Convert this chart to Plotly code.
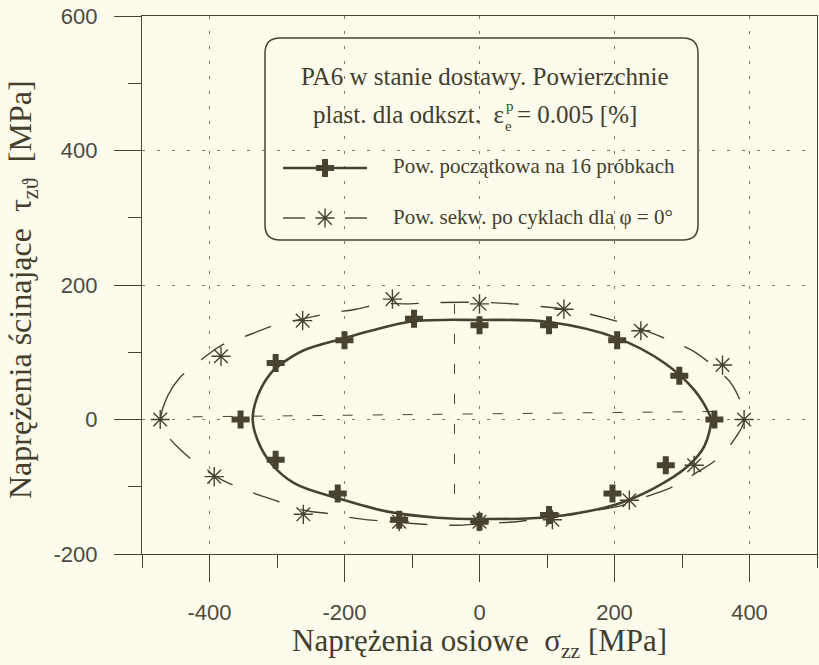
import plotly.graph_objects as go

# Measured points: initial yield surface (16 specimens)
initial_sigma = [-354, -302, -200, -97, 0, 103, 204, 296, 348, 276, 197, 103, 0, -119, -210, -302]
initial_tau = [0, 84, 118, 150, 140, 140, 118, 65, 0, -68, -110, -142, -152, -149, -110, -60]

# Measured points: sequential surface after cycles, phi = 0 deg
seq_sigma = [-473, -383, -262, -129, 0, 125, 239, 360, 392, 318, 222, 108, 0, -119, -261, -393]
seq_tau = [0, 94, 147, 179, 172, 164, 132, 81, 0, -68, -120, -149, -152, -152, -141, -85]

# Fitted initial surface (solid)
init_curve_sigma = [-336, -329, -309, -289, -260, -200, -161, -97, 0, 103, 204, 274, 318, 340, 343,
                    333, 308, 259, 200, 103, 0, -62, -136, -210, -274, -309, -329, -336]
init_curve_tau = [0, 34, 69, 86, 103, 121, 132, 146, 148, 145, 121, 84, 44, 9, 0,
                  -40, -70, -102, -127, -145, -148, -146, -137, -117, -95, -65, -30, 0]

# Fitted sequential surface (dashed)
seq_curve_sigma = [-472, -462, -445, -413, -381, -341, -304, -260, -223, -183, -144, -104, -62, 12, 49, 91,
                   125, 170, 207, 244, 281, 318, 350, 376, 392, 380, 353, 323, 286, 249, 214, 175,
                   135, 101, 54, 17, -25, -62, -120, -183, -223, -260, -304, -341, -381, -413, -445,
                   -462, -472]
seq_curve_tau = [0, 35, 61, 88, 111, 126, 140, 150, 158, 164, 172, 172, 174, 174, 172, 168,
                 164, 155, 145, 133, 118, 101, 76, 49, 0, -26, -58, -78, -100, -114, -127, -135,
                 -142, -145, -152, -154, -157, -157, -153, -147, -140, -135, -120, -107, -90, -70, -43,
                 -24, 0]

# Principal axes of the sequential surface
axis_h_sigma = [-425, 357]
axis_h_tau = [4, 12]
axis_v_sigma = [-37, -37]
axis_v_tau = [172, -115]

x_ticks = [-400, -200, 0, 200, 400]
y_ticks = [-200, 0, 200, 400, 600]
x_minor = [-500, -300, -100, 100, 300, 500]
y_minor = [-100, 100, 300, 500]

BG = "#fcfbec"
INK = "#48432f"
TXT = "#433e2d"
TICKTXT = "#4e4a3c"
SERIF = "Liberation Serif, Times New Roman, serif"
SANS = "Liberation Sans, Arial, sans-serif"

W, H = 819, 665
L, T, PW, PH = 142, 16, 675, 538


def X(px):
    return (px - L) / PW


def Y(py):
    return (T + PH - py) / PH


CROSS = dict(symbol="cross", size=15, color=INK, line=dict(width=0))
STAR = dict(symbol="asterisk-open", size=16, color=INK, line=dict(color=INK, width=1.4))

fig = go.Figure()

fig.add_trace(go.Scatter(x=axis_h_sigma, y=axis_h_tau, mode="lines",
                         line=dict(color=INK, width=1, dash="10px,20px"), hoverinfo="skip"))
fig.add_trace(go.Scatter(x=axis_v_sigma, y=axis_v_tau, mode="lines",
                         line=dict(color=INK, width=1, dash="10px,20px"), hoverinfo="skip"))
fig.add_trace(go.Scatter(x=seq_curve_sigma, y=seq_curve_tau, mode="lines",
                         line=dict(color=INK, width=1.4, dash="28px,22px", shape="spline", smoothing=1)))
fig.add_trace(go.Scatter(x=init_curve_sigma, y=init_curve_tau, mode="lines",
                         line=dict(color=INK, width=2.6, shape="spline", smoothing=1)))
fig.add_trace(go.Scatter(x=seq_sigma, y=seq_tau, mode="markers", marker=STAR))
fig.add_trace(go.Scatter(x=initial_sigma, y=initial_tau, mode="markers", marker=CROSS))

# Legend keys, drawn on an overlay axis spanning the plot area in [0, 1]
key_y1, key_y2 = Y(168), Y(218)
fig.add_trace(go.Scatter(x=[X(283), X(367)], y=[key_y1, key_y1], mode="lines",
                         line=dict(color=INK, width=2.6), xaxis="x2", yaxis="y2"))
fig.add_trace(go.Scatter(x=[X(325)], y=[key_y1], mode="markers", xaxis="x2", yaxis="y2", marker=CROSS))
for a, b in [(283, 305), (345, 367)]:
    fig.add_trace(go.Scatter(x=[X(a), X(b)], y=[key_y2, key_y2], mode="lines",
                             line=dict(color=INK, width=1.4), xaxis="x2", yaxis="y2"))
fig.add_trace(go.Scatter(x=[X(325)], y=[key_y2], mode="markers", xaxis="x2", yaxis="y2", marker=STAR))

# Rounded legend frame
bx0, by0, bx1, by1, r = 265, 38, 698, 240, 15
path = (f"M {X(bx0 + r)},{Y(by0)} L {X(bx1 - r)},{Y(by0)} Q {X(bx1)},{Y(by0)} {X(bx1)},{Y(by0 + r)} "
        f"L {X(bx1)},{Y(by1 - r)} Q {X(bx1)},{Y(by1)} {X(bx1 - r)},{Y(by1)} "
        f"L {X(bx0 + r)},{Y(by1)} Q {X(bx0)},{Y(by1)} {X(bx0)},{Y(by1 - r)} "
        f"L {X(bx0)},{Y(by0 + r)} Q {X(bx0)},{Y(by0)} {X(bx0 + r)},{Y(by0)} Z")
fig.add_shape(type="path", path=path, xref="paper", yref="paper", layer="between",
              fillcolor=BG, line=dict(color=INK, width=1.5))


def note(text, px, py, size, xanchor="center", font=SERIF, color=TXT, angle=0):
    fig.add_annotation(text=text, x=X(px), y=Y(py), xref="paper", yref="paper",
                       xanchor=xanchor, yanchor="middle", showarrow=False, textangle=angle,
                       borderpad=0, font=dict(family=font, size=size, color=color))


note("PA6 w stanie dostawy. Powierzchnie", 485, 77, 25)
note("plast. dla odkszt.\u00a0\u00a0ε", 505, 114, 25, xanchor="right")
note("p", 505, 106, 15, xanchor="left")
note("e", 504, 126, 15, xanchor="left")
note("= 0.005 [%]", 516, 114, 25, xanchor="left")
note("Pow. początkowa na 16 próbkach", 392, 166, 21, xanchor="left")
note("Pow. sekw. po cyklach dla φ = 0°", 392, 217, 21, xanchor="left")

note("Naprężenia osiowe\u00a0\u00a0σ<sub>zz</sub> [MPa]", 479, 643, 31)
note("Naprężenia ścinające\u00a0\u00a0τ<sub>zϑ</sub>\u00a0\u00a0[MPa]", 22, 290, 32, angle=-90)

axis_common = dict(ticks="outside", ticklen=27, tickwidth=1, tickcolor=INK,
                   showline=True, mirror=True, linecolor=INK, linewidth=1.3,
                   showgrid=True, gridcolor="#7d7763", gridwidth=1, griddash="3px,12px",
                   zeroline=False, tickfont=dict(family=SANS, size=22, color=TICKTXT))

fig.update_layout(
    width=W, height=H, showlegend=False,
    margin=dict(l=L, r=W - L - PW, t=T, b=H - T - PH),
    paper_bgcolor=BG, plot_bgcolor=BG,
    xaxis=dict(range=[-500, 500], tickvals=x_ticks, ticktext=[str(v) for v in x_ticks],
               ticklabelstandoff=11,
               minor=dict(tickvals=x_minor, ticks="outside", ticklen=13,
                          tickcolor=INK, tickwidth=1, showgrid=False),
               **axis_common),
    yaxis=dict(range=[-200, 600], tickvals=y_ticks, ticktext=[str(v) for v in y_ticks],
               ticklabelstandoff=12,
               minor=dict(tickvals=y_minor, ticks="outside", ticklen=13,
                          tickcolor=INK, tickwidth=1, showgrid=False),
               **axis_common),
    xaxis2=dict(overlaying="x", anchor="y2", range=[0, 1], visible=False),
    yaxis2=dict(overlaying="y", anchor="x2", range=[0, 1], visible=False),
)

fig.write_html("out.html")
